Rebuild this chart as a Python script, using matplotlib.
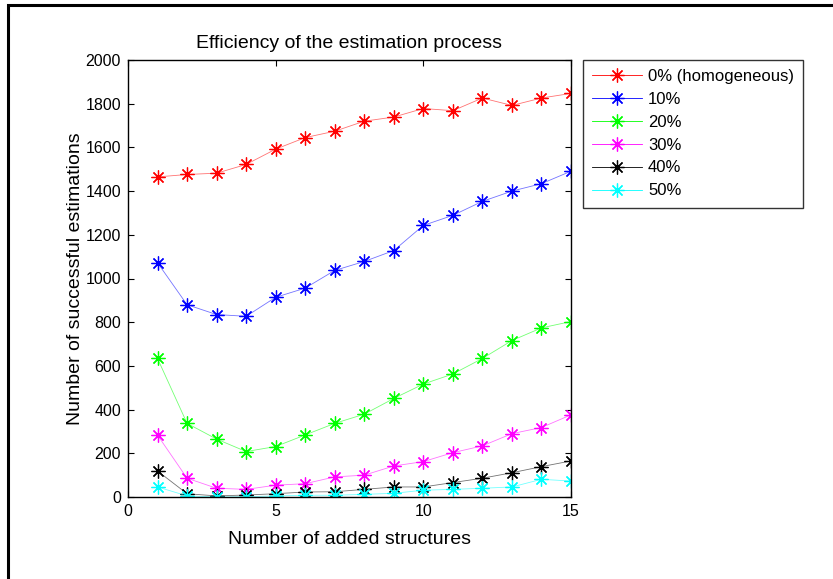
#!/usr/bin/env python3

import matplotlib
matplotlib.use('Agg')
import matplotlib.pyplot as plt
import numpy as np
from matplotlib.patches import Rectangle


n_structures = list(range(1, 16))

labels = ['0% (homogeneous)', '10%', '20%', '30%', '40%', '50%']
colors = ['#ff0000', '#0000ff', '#00ff00', '#ff00ff', '#000000', '#00ffff']

# successful estimations per heterogeneity level
hom_0 = [1465, 1476, 1482, 1522, 1592, 1645, 1674, 1720, 1739, 1778, 1768, 1826, 1792, 1826, 1847]
het_10 = [1072, 880, 835, 827, 914, 956, 1037, 1078, 1128, 1243, 1289, 1353, 1400, 1434, 1491]
het_20 = [634, 337, 265, 208, 231, 284, 337, 379, 451, 517, 563, 634, 716, 774, 803]
het_30 = [283, 86, 40, 35, 54, 61, 92, 100, 142, 162, 203, 234, 290, 318, 376]
het_40 = [119, 15, 5, 9, 15, 23, 24, 35, 46, 46, 66, 86, 111, 139, 165]
het_50 = [46, 5, 0, 1, 5, 8, 8, 12, 17, 31, 35, 40, 46, 81, 73]

x_ticks = [0, 5, 10, 15]
y_ticks = list(range(0, 2001, 200))


def main():
    plt.rcParams['font.family'] = ['Liberation Sans', 'DejaVu Sans']
    plt.rcParams['font.size'] = 11.5

    W, H = 833, 579
    fig = plt.figure(figsize=(W / 100, H / 100), dpi=100)

    # outer frame (only left/top visible in the reference)
    fig.patches.append(Rectangle((8 / W, -0.1), 1.2, (579 - 5) / H + 0.1,
                                 transform=fig.transFigure, fill=False,
                                 edgecolor='black', linewidth=2.2))

    ax = fig.add_axes([128 / W, (H - 497) / H, (571 - 128) / W, (497 - 60) / H])

    series = [hom_0, het_10, het_20, het_30, het_40, het_50]
    for vals, lab, col in zip(series, labels, colors):
        ax.plot(n_structures, vals, color=col, linewidth=0.6, alpha=0.55)
        ax.plot(n_structures, vals, linestyle='none', marker=(8, 2, 0),
                markersize=10, markeredgewidth=0.9, color=col)

    # legend proxies
    handles = []
    for lab, col in zip(labels, colors):
        h, = ax.plot([], [], color=col, linewidth=0.6, marker=(8, 2, 0),
                     markersize=10, markeredgewidth=0.9, label=lab)
        handles.append(h)

    ax.set_xlim(0, 15)
    ax.set_ylim(0, 2000)
    ax.set_xticks(x_ticks)
    ax.set_yticks(y_ticks)
    ax.tick_params(direction='in', top=True, right=True, length=4, width=0.8,
                   pad=5, labelsize=11.5)
    for s in ax.spines.values():
        s.set_linewidth(1.0)

    ax.set_title('Efficiency of the estimation process', fontsize=14, pad=9)
    ax.set_xlabel('Number of added structures', fontsize=14, labelpad=9)
    ax.set_ylabel('Number of successful estimations', fontsize=14, labelpad=1)

    leg = ax.legend(handles, labels, loc='upper left',
                    bbox_to_anchor=(583 / W, (H - 60) / H),
                    bbox_transform=fig.transFigure, borderaxespad=0,
                    frameon=True, fancybox=False, edgecolor='black',
                    fontsize=12, handlelength=3.0, labelspacing=0.47,
                    borderpad=0.55, handletextpad=0.35)
    leg.get_frame().set_linewidth(1.0)
    leg.set_zorder(10)

    fig.savefig('out.png', dpi=100)


if __name__ == "__main__":
    main()
